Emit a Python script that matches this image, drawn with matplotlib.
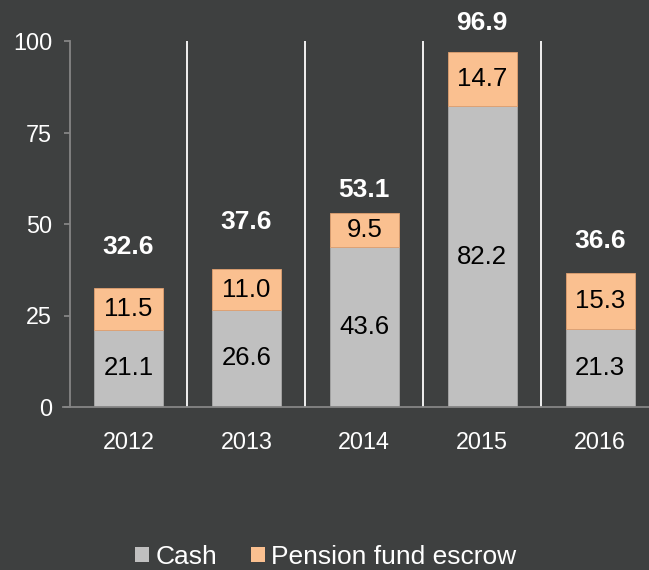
import numpy as np
import matplotlib
matplotlib.use('Agg')
import matplotlib.pyplot as plt
from matplotlib.patches import Patch

matplotlib.rcParams.update({'font.family': ['Liberation Sans', 'DejaVu Sans']})

years = ['2012', '2013', '2014', '2015', '2016']
cash = [21.1, 26.6, 43.6, 82.2, 21.3]
escrow = [11.5, 11.0, 9.5, 14.7, 15.3]
totals = [32.6, 37.6, 53.1, 96.9, 36.6]
total_label_y = [43.7, 50.5, 59.2, 104.8, 45.3]

bg = '#3e4040'
c_cash = '#c0c0c0'
c_escrow = '#fac090'

fig = plt.figure(figsize=[6.49, 5.70], dpi=100, facecolor=bg)
ax = fig.add_axes([69.5/649, 163/570, 589.5/649, 366/570])
ax.set_facecolor(bg)

x = np.arange(len(years))
w = 0.585
ax.bar(x, cash, w, color=c_cash, edgecolor='#a8a8a8', linewidth=0.6, zorder=2)
ax.bar(x, escrow, w, bottom=cash, color=c_escrow, edgecolor='#e0a070', linewidth=0.6, zorder=2)

for i in range(len(years)):
	ax.text(x[i], cash[i]/2, '{:.1f}'.format(cash[i]), ha='center', va='center', fontsize=18.5, color='black', zorder=3)
	ax.text(x[i], cash[i] + escrow[i]/2, '{:.1f}'.format(escrow[i]), ha='center', va='center', fontsize=18.5, color='black', zorder=3)
	ax.text(x[i], total_label_y[i], '{:.1f}'.format(totals[i]), ha='center', va='center', fontsize=19, fontweight='bold', color='white', zorder=3)

# white separators between years
for s in x[:-1] + 0.5:
	ax.plot([s, s], [0, 100], color='white', linewidth=1.3, zorder=1)

ax.set_xlim(-0.5, 4.5)
ax.set_ylim(0, 100)
ax.set_yticks([0, 25, 50, 75, 100])
ax.set_xticks(x)
ax.set_xticklabels(years)

for side in ['top', 'right']:
	ax.spines[side].set_visible(False)
for side in ['left', 'bottom']:
	ax.spines[side].set_color('#858585')
	ax.spines[side].set_linewidth(1.3)
ax.spines['bottom'].set_bounds(-0.553, 4.5)

ax.tick_params(axis='y', colors='#858585', labelcolor='white', labelsize=16.8, length=4.5, width=1.3, pad=8)
ax.tick_params(axis='x', colors='#858585', labelcolor='white', labelsize=16.8, length=0, pad=17)

handles = [Patch(facecolor=c_cash, edgecolor='none', label='Cash'),
	Patch(facecolor=c_escrow, edgecolor='none', label='Pension fund escrow')]
fig.legend(handles=handles, loc='center', bbox_to_anchor=(0.502, 13/570), ncol=2, frameon=False,
	fontsize=19, labelcolor='white', handlelength=0.53, handleheight=0.53,
	handletextpad=0.25, columnspacing=1.25, borderpad=0, borderaxespad=0)

fig.savefig('out.png', dpi=100, facecolor=bg)
